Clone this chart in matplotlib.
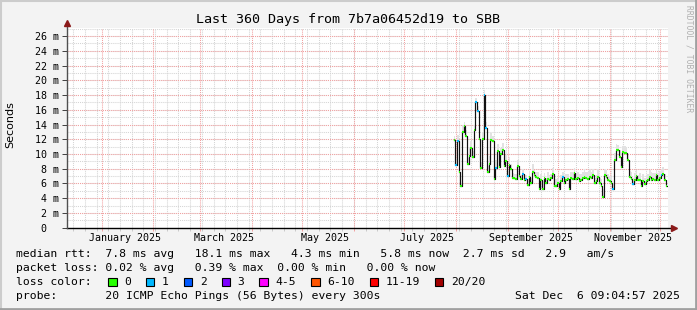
import matplotlib
matplotlib.use('Agg')
import matplotlib.pyplot as plt
from matplotlib.lines import Line2D
from matplotlib.patches import Rectangle
import pandas as pd

# daily median rtt (ms) and packet loss (pings lost of 20)
median_ms = [11.9, 8.5, 11.7, 7.5, 5.6, 13.0, 13.8, 12.4, 8.7, 9.7,
             10.8, 9.6, 13.2, 17.1, 15.9, 12.1, 8.1, 12.1, 18.0, 13.5,
             7.6, 8.7, 11.9, 11.7, 6.6, 8.1, 10.4, 8.2, 10.0, 10.5,
             8.4, 9.0, 7.0, 8.5, 7.9, 6.7, 6.7, 6.6, 8.4, 7.0,
             6.6, 7.3, 6.5, 6.6, 5.75, 6.9, 6.0, 7.6, 7.2, 6.9,
             6.7, 5.3, 6.5, 5.3, 6.7, 6.0, 6.6, 6.5, 6.7, 7.3,
             5.6, 5.7, 6.0, 5.2, 6.4, 6.9, 6.0, 6.5, 6.6, 5.3,
             6.7, 6.6, 7.4, 6.6, 6.7, 6.3, 6.5, 6.7, 6.9, 6.7,
             6.6, 6.9, 6.7, 7.1, 6.0, 6.3, 6.9, 6.0, 5.7, 4.2,
             7.2, 6.9, 6.5, 6.3, 6.0, 5.2, 9.2, 10.6, 10.5, 9.6,
             8.2, 10.3, 10.2, 10.1, 9.2, 6.9, 6.6, 5.9, 6.5, 7.0,
             6.5, 6.5, 5.7, 6.4, 5.9, 6.3, 6.5, 6.9, 6.5, 6.6,
             6.5, 7.2, 6.5, 6.7, 7.2, 7.3, 6.5, 5.7]
loss = [0, 1, 1, 0, 0, 0, 0, 0, 0, 0,
        0, 0, 0, 1, 1, 0, 0, 0, 1, 1,
        0, 0, 0, 0, 0, 1, 0, 0, 0, 0,
        0, 0, 1, 0, 0, 0, 0, 0, 0, 0,
        0, 1, 0, 1, 0, 0, 0, 0, 0, 0,
        0, 0, 0, 0, 0, 0, 0, 0, 0, 0,
        0, 0, 0, 0, 0, 1, 0, 0, 0, 0,
        0, 0, 0, 0, 0, 0, 0, 0, 0, 0,
        0, 0, 0, 0, 0, 0, 0, 0, 0, 0,
        0, 0, 0, 0, 0, 1, 0, 0, 0, 0,
        0, 0, 0, 0, 0, 0, 0, 1, 0, 0,
        0, 0, 0, 0, 0, 0, 0, 0, 0, 0,
        0, 0, 0, 0, 1, 0, 0, 0]
# smoke spread above the median (ms)
smoke_ms = [0.6, 0.8, 0.9, 0.7, 0.5, 1.0, 0.5, 0.9, 0.8, 1.2,
            0.9, 0.8, 0.7, 0.5, 0.6, 0.9, 0.8, 0.9, 0.7, 0.9,
            0.8, 1.0, 0.9, 0.8, 0.7, 1.1, 1.0, 0.9, 0.8, 1.0,
            0.9, 0.8, 0.7, 1.1, 0.8, 0.7, 0.6, 0.7, 0.8, 0.9,
            0.6, 0.7, 0.8, 0.6, 0.9, 0.8, 0.7, 1.1, 0.6, 0.7,
            0.8, 0.9, 0.8, 1.0, 0.7, 0.8, 0.9, 0.7, 0.6, 0.8,
            1.0, 0.9, 0.8, 1.1, 0.8, 0.7, 0.9, 0.8, 0.7, 1.0,
            0.8, 0.9, 0.7, 0.8, 0.9, 1.0, 0.8, 0.9, 1.0, 0.8,
            0.9, 1.0, 0.8, 0.9, 0.8, 0.9, 1.1, 0.8, 0.9, 1.0,
            0.8, 0.9, 0.8, 0.7, 0.9, 0.8, 0.9, 0.8, 0.7, 0.9,
            1.0, 0.8, 0.9, 0.8, 0.7, 0.8, 0.9, 0.8, 0.9, 0.8,
            0.7, 0.9, 0.8, 0.9, 0.8, 0.9, 0.8, 0.9, 1.0, 0.8,
            0.9, 0.8, 0.9, 1.0, 0.8, 0.9, 0.8, 0.7]
last_day = '2025-12-05'

t_start = pd.Timestamp('2024-12-11 09:04:57')
t_end = pd.Timestamp('2025-12-06 09:04:57')

loss_labels = ['0', '1', '2', '3', '4-5', '6-10', '11-19', '20/20']
loss_colors = ['#26ff00', '#00b8ff', '#0059ff', '#7e00ff', '#ff00ff',
               '#ff5500', '#ff0000', '#a10000']

stat_lines = [
    'median rtt:  7.8 ms avg   18.1 ms max   4.3 ms min   5.8 ms now  2.7 ms sd   2.9   am/s',
    'packet loss: 0.02 % avg   0.39 % max  0.00 % min   0.00 % now',
]
probe_text = 'probe:       20 ICMP Echo Pings (56 Bytes) every 300s'
stamp_text = 'Sat Dec  6 09:04:57 2025'
title = 'Last 360 Days from 7b7a06452d19 to SBB'

W, H = 697, 310
mono = 'DejaVu Sans Mono'
fig = plt.figure(figsize=(W / 100, H / 100), dpi=100)
fig.patch.set_facecolor('#f3f3f3')

ax = fig.add_axes([66.5 / W, 82.3 / H, 601.5 / W, 199.7 / H])
ax.set_facecolor('white')
for s in ax.spines.values():
    s.set_visible(False)

dates = pd.date_range(end=last_day, periods=len(median_ms), freq='D')
day = pd.Timedelta(days=1)

# smoke
ax.bar(dates, smoke_ms, width=1.0, bottom=median_ms, align='edge',
       color='#e2e2e2', linewidth=0, zorder=2)

# median step line
xs = list(dates) + [dates[-1] + day]
ys = list(median_ms) + [median_ms[-1]]
ax.step(xs, ys, where='post', color='#111111', lw=0.85, zorder=3)
ax.hlines(median_ms, dates, dates + day,
          colors=[loss_colors[l] for l in loss], lw=1.5, zorder=4)

ax.set_xlim(t_start, t_end)
ax.set_ylim(0, 27.1)

# grid
weeks = pd.date_range(t_start, t_end, freq='W-SUN')
months = pd.date_range(t_start, t_end, freq='MS')
dash = (0, (1, 1))
for w in weeks:
    ax.axvline(w, color='#d4d4d4', lw=0.75, ls=dash, zorder=1)
for v in range(1, 28):
    ax.axhline(v, color='#d4d4d4', lw=0.75, ls=dash, zorder=1)
for m in months:
    ax.axvline(m, color='#f2a0a0', lw=0.75, ls=dash, zorder=1.5)
for v in range(2, 27, 2):
    ax.axhline(v, color='#f2a0a0', lw=0.75, ls=dash, zorder=1.5)

# y ticks
yt = list(range(0, 27, 2))
ax.set_yticks(yt)
ax.set_yticklabels(['0  '] + ['%d m' % v for v in yt[1:]],
                   fontfamily=mono, fontsize=7.2)
ax.tick_params(axis='y', length=3.5, width=0.7, pad=2, color='#404040')

# x ticks: month lines, labels mid-month every second month
ax.set_xticks(months)
ax.set_xticklabels([''] * len(months))
ax.set_xticks(weeks, minor=True)
ax.tick_params(axis='x', which='major', length=2.5, width=0.7, color='#f2a0a0')
ax.tick_params(axis='x', which='minor', length=2.5, width=0.7, color='#c8c8c8')
for m in months:
    if m.month % 2 == 1:
        mid = m + pd.Timedelta(days=14)
        ax.text(mid, -0.05, m.strftime('%B %Y'), transform=ax.get_xaxis_transform(),
                ha='center', va='center', fontfamily=mono, fontsize=7.2)

# axes with arrows
ax.plot([0, 1.008], [0, 0], transform=ax.transAxes, color='black', lw=1, clip_on=False, zorder=5)
ax.plot([0, 0], [0, 1.015], transform=ax.transAxes, color='#505050', lw=1, clip_on=False, zorder=5)
ax.plot([1.01], [0], transform=ax.transAxes, marker='>', color='#8b1a1a', ms=4, clip_on=False, zorder=6)
ax.plot([0], [1.025], transform=ax.transAxes, marker='^', color='#8b1a1a', ms=4, clip_on=False, zorder=6)

fig.text(10 / W, 1 - 125 / H, 'Seconds', rotation=90, ha='center', va='center',
         fontsize=8, fontfamily='DejaVu Sans')
fig.text(348.5 / W, 1 - 19 / H, title, ha='center', va='center',
         fontfamily=mono, fontsize=9.6)
fig.text(689 / W, 1 - 5 / H, 'RRDTOOL / TOBI OETIKER', rotation=270, ha='center', va='top',
         fontfamily=mono, fontsize=5.8, color='#b0b0b0')

# legend block
cw = 6.87
row_y = [254.3, 268.3, 282.0, 296.0]
for i, line in enumerate(stat_lines):
    fig.text(16 / W, 1 - row_y[i] / H, line, ha='left', va='center',
             fontfamily=mono, fontsize=8.2)
fig.text(16 / W, 1 - row_y[2] / H, 'loss color:', ha='left', va='center',
         fontfamily=mono, fontsize=8.2)
bx = 108.0
for lab, col in zip(loss_labels, loss_colors):
    fig.patches.append(Rectangle((bx / W, 1 - (row_y[2] + 4.3) / H), 8.5 / W, 8.5 / H,
                                 facecolor=col, edgecolor='black', lw=0.8,
                                 transform=fig.transFigure, figure=fig))
    fig.text((bx + 16) / W, 1 - row_y[2] / H, lab, ha='left', va='center',
             fontfamily=mono, fontsize=8.2)
    bx = bx + 16 + len(lab) * cw + 15
fig.text(16 / W, 1 - row_y[3] / H, probe_text, ha='left', va='center',
         fontfamily=mono, fontsize=8.2)
fig.text(680 / W, 1 - row_y[3] / H, stamp_text, ha='right', va='center',
         fontfamily=mono, fontsize=8.2)

# frame
fig.add_artist(Line2D([0, 1], [1 - 1 / H, 1 - 1 / H], color='#cccccc', lw=1.5, transform=fig.transFigure))
fig.add_artist(Line2D([1 / W, 1 / W], [0, 1], color='#cccccc', lw=1.5, transform=fig.transFigure))
fig.add_artist(Line2D([0, 1], [1.5 / H, 1.5 / H], color='#a0a0a0', lw=2, transform=fig.transFigure))
fig.add_artist(Line2D([1 - 1.5 / W, 1 - 1.5 / W], [0, 1], color='#a0a0a0', lw=2, transform=fig.transFigure))

fig.savefig('out.png', dpi=100, facecolor=fig.get_facecolor())
